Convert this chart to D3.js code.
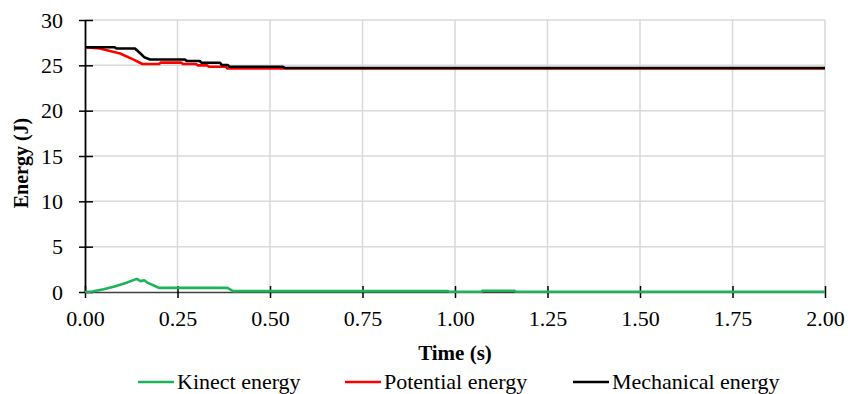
<!DOCTYPE html>
<html>
<head>
<meta charset="UTF-8" />
</head>
<body style="margin:0">
<svg width="848" height="394"></svg>
<script src="https://cdn.jsdelivr.net/npm/d3@7"></script>
<script>
    // Values (time in s, energy in J)
    let kineticT = [0, 0.02, 0.05, 0.08, 0.11, 0.14, 0.15, 0.16, 0.17, 0.195, 0.2, 0.385, 0.40, 0.98, 0.985, 1.07, 1.075, 1.16, 1.165, 2.0];
    let kineticV = [0, 0.05, 0.3, 0.6, 1.0, 1.45, 1.2, 1.3, 1.0, 0.55, 0.45, 0.45, 0.1, 0.1, 0.02, 0.02, 0.14, 0.14, 0.02, 0.02];

    let potentialT = [0, 0.04, 0.095, 0.13, 0.155, 0.2, 0.205, 0.26, 0.265, 0.30, 0.305, 0.33, 0.335, 0.38, 0.385, 2.0];
    let potentialV = [27.0, 26.85, 26.3, 25.65, 25.15, 25.15, 25.3, 25.3, 25.15, 25.15, 25.0, 25.0, 24.85, 24.85, 24.65, 24.65];

    let mechanicalT = [0, 0.08, 0.085, 0.135, 0.15, 0.16, 0.176, 0.27, 0.275, 0.31, 0.315, 0.365, 0.37, 0.386, 0.39, 0.535, 0.54, 2.0];
    let mechanicalV = [27.0, 27.0, 26.85, 26.85, 26.3, 25.9, 25.65, 25.65, 25.47, 25.47, 25.28, 25.28, 25.03, 25.03, 24.85, 24.85, 24.7, 24.7];

    let xTicks = [0, 0.25, 0.5, 0.75, 1.0, 1.25, 1.5, 1.75, 2.0];
    let yTicks = [0, 5, 10, 15, 20, 25, 30];

    let seriesNames = ["Kinect energy", "Potential energy", "Mechanical energy"];
    let seriesColors = ["#1db359", "#ff0000", "#000000"];

    let svg = d3.select("svg");

    let x = d3.scaleLinear().domain([0, 2]).range([85, 825]);
    let y = d3.scaleLinear().domain([0, 30]).range([292, 20]);

    // gridlines
    svg.append("g")
        .selectAll("line")
        .data(xTicks.slice(1))
        .enter()
        .append("line")
        .attr("x1", d => x(d)).attr("x2", d => x(d))
        .attr("y1", y(30)).attr("y2", y(0))
        .attr("stroke", "#d9d9d9").attr("stroke-width", 1.5);

    svg.append("g")
        .selectAll("line")
        .data(yTicks.slice(1))
        .enter()
        .append("line")
        .attr("x1", x(0)).attr("x2", x(2))
        .attr("y1", d => y(d)).attr("y2", d => y(d))
        .attr("stroke", "#d9d9d9").attr("stroke-width", 1.5);

    // axes
    let xAxis = svg.append("g")
        .attr("transform", "translate(0," + y(0) + ")")
        .call(d3.axisBottom(x).tickValues(xTicks).tickFormat(d3.format(".2f")).tickSizeInner(6).tickSizeOuter(0))
        .attr("font-family", "Liberation Serif")
        .attr("font-size", 22);
    xAxis.select(".domain").attr("stroke", "#404040").attr("stroke-width", 1.5);
    xAxis.selectAll(".tick line").attr("y1", -6).attr("stroke", "#000").attr("stroke-width", 1.5);
    xAxis.selectAll(".tick text")
        .attr("y", 34)
        .attr("dy", null)
        .attr("fill", "#000");

    let yAxis = svg.append("g")
        .attr("transform", "translate(" + x(0) + ",0)")
        .call(d3.axisLeft(y).tickValues(yTicks).tickSizeInner(6).tickSizeOuter(0))
        .attr("font-family", "Liberation Serif")
        .attr("font-size", 22);
    yAxis.select(".domain").attr("stroke", "#000").attr("stroke-width", 1.8);
    yAxis.selectAll(".tick line").attr("x1", -6).attr("x2", 8).attr("stroke", "#000").attr("stroke-width", 1.5);
    yAxis.selectAll(".tick text")
        .attr("x", -22)
        .attr("fill", "#000");

    // series
    let series = [
        { t: kineticT, v: kineticV },
        { t: potentialT, v: potentialV },
        { t: mechanicalT, v: mechanicalV }
    ];

    let line = d3.line()
        .x(d => x(d[0]))
        .y(d => y(d[1]));

    series.forEach((s, i) => {
        svg.append("path")
            .datum(s.t.map((t, j) => [t, s.v[j]]))
            .attr("fill", "none")
            .attr("stroke", seriesColors[i])
            .attr("stroke-width", 2.6)
            .attr("stroke-linejoin", "round")
            .attr("d", line);
    });

    // axis titles
    svg.append("text")
        .attr("x", x(1))
        .attr("y", 360)
        .attr("text-anchor", "middle")
        .attr("font-family", "Liberation Serif")
        .attr("font-size", 21)
        .attr("font-weight", "bold")
        .text("Time (s)");

    svg.append("text")
        .attr("transform", "translate(28,163) rotate(-90)")
        .attr("text-anchor", "middle")
        .attr("font-family", "Liberation Serif")
        .attr("font-size", 20)
        .attr("font-weight", "bold")
        .text("Energy (J)");

    // legend
    let legendX = [138, 345, 573];
    seriesNames.forEach((name, i) => {
        svg.append("line")
            .attr("x1", legendX[i]).attr("x2", legendX[i] + 36)
            .attr("y1", 382).attr("y2", 382)
            .attr("stroke", seriesColors[i])
            .attr("stroke-width", 2.6);
        svg.append("text")
            .attr("x", legendX[i] + 39)
            .attr("y", 389)
            .attr("font-family", "Liberation Serif")
            .attr("font-size", 22)
            .text(name);
    });
</script>
</body>
</html>
